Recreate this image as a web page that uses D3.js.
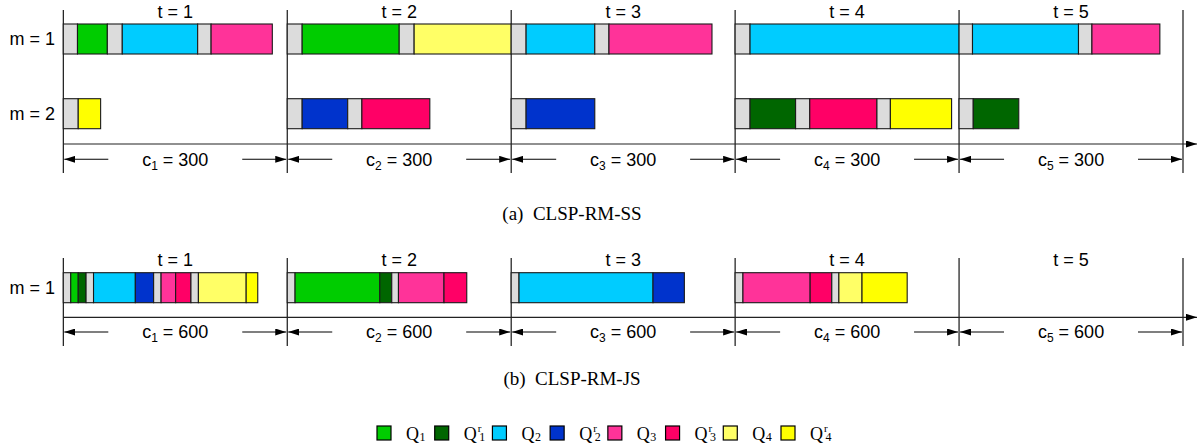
<!DOCTYPE html>
<html>
<head>
<meta charset="utf-8">
<script src="https://cdn.jsdelivr.net/npm/d3@7"></script>
<style>
  html, body { margin: 0; padding: 0; background: #fff; }
  svg { display: block; }
</style>
</head>
<body>
<svg id="chart" width="1199" height="443"></svg>
<script>
// ---------------- DATA ----------------
const periods = [1, 2, 3, 4, 5];
const capacitySS = 300;
const capacityJS = 600;
const machinesSS = ["m = 1", "m = 2"];
const machinesJS = ["m = 1"];

const productKeys = ["S", "Q1", "Qr1", "Q2", "Qr2", "Q3", "Qr3", "Q4", "Qr4"];
const productColors = ["#DCDCDC", "#00CC00", "#006600", "#00CCFF", "#0033CC", "#FF3399", "#FF0066", "#FFFF66", "#FFFF00"];

// legend: base letter, superscript, subscript
const legendKeys = ["Q1", "Qr1", "Q2", "Qr2", "Q3", "Qr3", "Q4", "Qr4"];
const legendBase = ["Q", "Q", "Q", "Q", "Q", "Q", "Q", "Q"];
const legendSup = ["", "r", "", "r", "", "r", "", "r"];
const legendSub = ["1", "1", "2", "2", "3", "3", "4", "4"];

// (a) CLSP-RM-SS : per period, [product, duration]
const ssM1 = [
  [["S", 19], ["Q1", 40], ["S", 20], ["Q2", 101], ["S", 18], ["Q3", 82]],
  [["S", 20], ["Q1", 130], ["S", 20], ["Q4", 130]],
  [["S", 20], ["Q2", 92], ["S", 19], ["Q3", 138]],
  [["S", 20], ["Q2", 280]],
  [["S", 18], ["Q2", 142], ["S", 18], ["Q3", 91]]
];
const ssM2 = [
  [["S", 20], ["Qr4", 30]],
  [["S", 20], ["Qr2", 61], ["S", 19], ["Qr3", 91]],
  [["S", 20], ["Qr2", 92]],
  [["S", 20], ["Qr1", 61], ["S", 19], ["Qr3", 90], ["S", 18], ["Qr4", 82]],
  [["S", 19], ["Qr1", 61]]
];
// (b) CLSP-RM-JS
const jsM1 = [
  [["S", 20], ["Q1", 20], ["Qr1", 21], ["S", 20], ["Q2", 112], ["Qr2", 49], ["S", 20], ["Q3", 39], ["Qr3", 41], ["S", 20], ["Q4", 128], ["Qr4", 31]],
  [["S", 21], ["Q1", 227], ["Qr1", 32], ["S", 18], ["Q3", 122], ["Qr3", 61]],
  [["S", 21], ["Q2", 359], ["Qr2", 84]],
  [["S", 21], ["Q3", 180], ["Qr3", 58], ["S", 19], ["Q4", 62], ["Qr4", 121]],
  []
];

const captionSS = "(a)  CLSP-RM-SS";
const captionJS = "(b)  CLSP-RM-JS";

// ---------------- DRAW ----------------
const svg = d3.select("#chart");
const color = d3.scaleOrdinal().domain(productKeys).range(productColors);
const SANS = "'Liberation Sans', Arial, sans-serif";
const SERIF = "'Liberation Serif', 'Times New Roman', serif";

const defs = svg.append("defs");
defs.append("marker")
  .attr("id", "ah").attr("viewBox", "0 0 11 7")
  .attr("refX", 11).attr("refY", 3.5)
  .attr("markerWidth", 11).attr("markerHeight", 7)
  .attr("markerUnits", "userSpaceOnUse")
  .attr("orient", "auto")
  .append("path").attr("d", "M0,0 L11,3.5 L0,7 Z").attr("fill", "#000");

function flatten(schedule, machine, cap) {
  const out = [];
  schedule.forEach((items, pi) => {
    let t = pi * cap;
    items.forEach(([p, d]) => {
      out.push({ machine, product: p, start: t, end: t + d });
      t += d;
    });
  });
  return out;
}

function panel(opts) {
  const { cap, machines, schedules, yTop, rowCenters, lineTop, axisY, dimY, lineBottom, tLabelY } = opts;
  const g = svg.append("g");
  const x = d3.scaleLinear().domain([0, cap * periods.length]).range([63.3, 1183]);
  const y = d3.scaleOrdinal().domain(machines).range(rowCenters);
  const barH = 30;

  // period boundaries
  const bounds = d3.range(periods.length + 1).map(i => i * cap);
  g.selectAll("line.vb").data(bounds).join("line")
    .attr("x1", d => x(d)).attr("x2", d => x(d))
    .attr("y1", lineTop).attr("y2", lineBottom)
    .attr("stroke", "#000").attr("stroke-width", 1.1);

  // axis line with arrow
  g.append("line")
    .attr("x1", x(0)).attr("x2", 1197)
    .attr("y1", axisY).attr("y2", axisY)
    .attr("stroke", "#222").attr("stroke-width", 1.2)
    .attr("marker-end", "url(#ah)");

  // t labels
  g.selectAll("text.tl").data(periods).join("text")
    .attr("x", (d, i) => x((i + 0.5) * cap))
    .attr("y", tLabelY)
    .attr("text-anchor", "middle")
    .attr("font-family", SANS).attr("font-size", 18)
    .text(d => "t = " + d);

  // machine labels
  g.selectAll("text.ml").data(machines).join("text")
    .attr("x", 55).attr("y", d => y(d))
    .attr("dy", "0.35em")
    .attr("text-anchor", "end")
    .attr("font-family", SANS).attr("font-size", 18)
    .text(d => d);

  // bars
  const segs = [];
  machines.forEach((m, mi) => segs.push(...flatten(schedules[mi], m, cap)));
  g.selectAll("rect.seg").data(segs).join("rect")
    .attr("x", d => x(d.start))
    .attr("y", d => y(d.machine) - barH / 2)
    .attr("width", d => x(d.end) - x(d.start))
    .attr("height", barH)
    .attr("fill", d => color(d.product))
    .attr("stroke", "#1a1a1a").attr("stroke-width", 1.1);

  // dimension arrows + capacity labels
  periods.forEach((p, i) => {
    const x0 = x(i * cap), x1 = x((i + 1) * cap);
    g.append("line").attr("x1", x0 + 45).attr("x2", x0 + 1)
      .attr("y1", dimY).attr("y2", dimY)
      .attr("stroke", "#000").attr("stroke-width", 1.1)
      .attr("marker-end", "url(#ah)");
    g.append("line").attr("x1", x1 - 45).attr("x2", x1 - 1)
      .attr("y1", dimY).attr("y2", dimY)
      .attr("stroke", "#000").attr("stroke-width", 1.1)
      .attr("marker-end", "url(#ah)");
    const t = g.append("text")
      .attr("x", (x0 + x1) / 2).attr("y", dimY)
      .attr("dy", "0.36em")
      .attr("text-anchor", "middle")
      .attr("font-family", SANS).attr("font-size", 18);
    t.append("tspan").text("c");
    t.append("tspan").attr("font-size", 12).attr("dy", 4).text(p);
    t.append("tspan").attr("dy", -4).text(" = " + cap);
  });
}

panel({
  cap: capacitySS, machines: machinesSS, schedules: [ssM1, ssM2],
  rowCenters: [39, 113.7], lineTop: 10, axisY: 144, dimY: 159.3, lineBottom: 173, tLabelY: 17.5
});
panel({
  cap: capacityJS, machines: machinesJS, schedules: [jsM1],
  rowCenters: [287.7], lineTop: 258, axisY: 317.3, dimY: 332, lineBottom: 346, tLabelY: 265.5
});

// captions
svg.append("text").attr("x", 572).attr("y", 220)
  .attr("text-anchor", "middle").attr("font-family", SERIF).attr("font-size", 19)
  .attr("xml:space", "preserve").style("white-space", "pre")
  .text(captionSS);
svg.append("text").attr("x", 572).attr("y", 385)
  .attr("text-anchor", "middle").attr("font-family", SERIF).attr("font-size", 19)
  .style("white-space", "pre")
  .text(captionJS);

// legend
const lx = d3.scalePoint().domain(legendKeys).range([377, 781]);
const lg = svg.append("g");
legendKeys.forEach((k, i) => {
  const x0 = lx(k);
  lg.append("rect").attr("x", x0).attr("y", 426).attr("width", 14).attr("height", 14)
    .attr("fill", color(k)).attr("stroke", "#000").attr("stroke-width", 1.2);
  const tx = x0 + 29;
  lg.append("text").attr("x", tx).attr("y", 440)
    .attr("font-family", SERIF).attr("font-size", 18).text(legendBase[i]);
  if (legendSup[i]) {
    lg.append("text").attr("x", tx + 14).attr("y", 432)
      .attr("font-family", SERIF).attr("font-size", 11).text(legendSup[i]);
    lg.append("text").attr("x", tx + 15.5).attr("y", 441)
      .attr("font-family", SERIF).attr("font-size", 12).text(legendSub[i]);
  } else {
    lg.append("text").attr("x", tx + 13.5).attr("y", 441)
      .attr("font-family", SERIF).attr("font-size", 12).text(legendSub[i]);
  }
});
</script>
</body>
</html>
